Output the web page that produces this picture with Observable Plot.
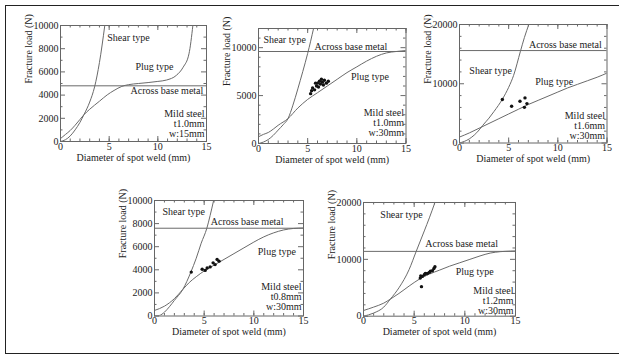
<!DOCTYPE html>
<html><head><meta charset="utf-8">
<script src="https://cdn.jsdelivr.net/npm/d3@7"></script>
<script src="https://cdn.jsdelivr.net/npm/@observablehq/plot@0.6"></script>
<style>
html,body{margin:0;padding:0;background:#fff;}
#wrap{position:relative;width:619px;height:355px;overflow:hidden;background:#fff;font-family:"Liberation Serif",serif;}
#border{position:absolute;left:5px;top:5px;width:700px;height:349px;border:1.5px solid #222;box-sizing:border-box;}
.panel{position:absolute;}
.panel, .panel text{font-family:"Liberation Serif", "Times New Roman", serif !important;font-size:10px;}
</style></head><body>
<div id="wrap"><div id="border"></div></div>
<script>
// ---------- shared axis values ----------
const xTicks = [0, 5, 10, 15];
const xMinor = [0,1,2,3,4,5,6,7,8,9,10,11,12,13,14,15];
const xTitle = "Diameter of spot weld (mm)";
const yTitle = "Fracture load (N)";
const curveNames = ["Shear type", "Plug type", "Across base metal"];

// ---------- Panel 1 : t1.0mm w:15mm ----------
const p1YTicks = [0, 2000, 4000, 6000, 8000, 10000];
const p1YMinor = [1000, 3000, 5000, 7000, 9000];
const p1Max = 10000;
const p1Across = 4800;
const p1Shear = [[0,0],[0.5,150],[1,480],[1.5,1000],[2,1650],[2.4,2300],[3,3400],[3.5,4700],[4,6800],[4.55,10000]];
const p1Plug = [[0,250],[0.5,600],[1,950],[1.5,1400],[2,1900],[2.4,2300],[3,2780],[4,3470],[4.8,4020],[5.5,4400],[6.3,4750],[7,4900],[8,5000],[9,5080],[10,5180],[10.9,5300],[11.9,5700],[12.6,6400],[13.2,7560],[13.6,10000]];
const p1Dots = [];
const p1LabelPos = [[4.8,8970],[7.7,6460],[7.2,4400]];
const p1Note = ["Mild steel", "t1.0mm", "w:15mm"];

// ---------- Panel 2 : t1.0mm w:30mm ----------
const p2YTicks = [0, 5000, 10000];
const p2YMinor = [1000,2000,3000,4000,6000,7000,8000,9000,11000];
const p2Max = 12000;
const p2Across = 9600;
const p2Shear = [[0,0],[0.5,150],[1,420],[1.5,850],[2,1400],[2.5,1950],[3,2600],[3.5,4000],[4,5700],[4.5,7500],[5,9400],[5.6,12000]];
const p2Plug = [[0,700],[0.5,950],[1,1150],[1.5,1500],[2,1900],[3,2600],[4,3700],[5,4600],[6,5300],[7,6000],[8,6700],[9,7400],[10,8000],[11,8600],[12,9100],[13,9450],[14,9600],[15,9700]];
const p2Dots = [[5.3,5200],[5.4,5500],[5.5,5800],[5.7,5600],[5.9,6000],[6.0,6300],[6.1,5900],[6.2,6500],[6.3,6200],[6.5,6400],[6.6,6100],[6.7,6600],[6.9,6300],[7.1,6500],[5.8,6300],[6.4,6700]];
const p2LabelPos = [[0.5,10830],[9.4,7010],[5.7,10140]];
const p2Note = ["Mild steel", "t1.0mm", "w:30mm"];

// ---------- Panel 3 : t1.6mm w:30mm ----------
const p3YTicks = [0, 10000, 20000];
const p3YMinor = [2000,4000,6000,8000,12000,14000,16000,18000];
const p3Max = 20000;
const p3Across = 15600;
const p3Shear = [[0,0],[1,700],[2,2200],[2.35,2950],[3,4200],[3.5,5300],[4.4,7500],[5,9400],[5.5,11400],[6.2,15500],[6.6,17800],[7.05,20000]];
const p3Plug = [[0,1000],[1,1700],[2,2500],[3,3300],[4,4100],[5,4900],[6,5700],[7,6500],[8,7200],[9,7900],[10,8600],[11,9300],[12,9900],[13,10500],[14,11100],[15,11800]];
const p3Dots = [[4.36,7330],[5.3,6190],[6.15,7050],[6.66,7610],[6.86,6650],[6.6,6020]];
const p3LabelPos = [[1.0,12160],[7.7,10340],[7.06,16590]];
const p3Note = ["Mild steel", "t1.6mm", "w:30mm"];

// ---------- Panel 4 : t0.8mm w:30mm ----------
const p4YTicks = [0, 2000, 4000, 6000, 8000, 10000];
const p4YMinor = [1000, 3000, 5000, 7000, 9000];
const p4Max = 10000;
const p4Across = 7600;
const p4Shear = [[0,0],[0.5,50],[1,330],[1.5,800],[2,1350],[2.85,2300],[3.66,3800],[4.2,5000],[4.7,6300],[5.27,7600],[5.6,8700],[5.95,10000]];
const p4Plug = [[0,480],[1,850],[2,1500],[2.85,2300],[3.5,2900],[4.2,3400],[5,3900],[6,4400],[7,4900],[8,5400],[9,5900],[10,6400],[11,6850],[12,7200],[13,7450],[14,7580],[15,7620]];
const p4Dots = [[3.7,3800],[4.8,4050],[5.1,3950],[5.3,4150],[5.6,4250],[5.9,4600],[6.1,4450],[6.3,4900],[6.5,4750]];
const p4LabelPos = [[0.8,8990],[10.4,5520],[5.67,8120]];
const p4Note = ["Mild steel", "t0.8mm", "w:30mm"];

// ---------- Panel 5 : t1.2mm w:30mm ----------
const p5YTicks = [0, 10000, 20000];
const p5YMinor = [2000,4000,6000,8000,12000,14000,16000,18000];
const p5Max = 20000;
const p5Across = 11400;
const p5Shear = [[0,0],[1,550],[2,1600],[2.65,3000],[3.5,5000],[4.5,8200],[5.2,11400],[6,15000],[6.5,17300],[7.05,20000]];
const p5Plug = [[0,1000],[1,1600],[2,2300],[2.65,3000],[3.5,4000],[4.5,5300],[5.5,6500],[6.5,7400],[7.5,8100],[8.5,8800],[9.5,9400],[10.5,10000],[11.5,10600],[12.5,11100],[13.5,11350],[14.5,11450],[15,11480]];
const p5Dots = [[5.72,5200],[5.6,6700],[5.65,7100],[5.8,7000],[6.0,7300],[6.1,7500],[6.3,7500],[6.5,7700],[6.6,7900],[6.8,8000],[6.95,8400],[7.05,8700]];
const p5LabelPos = [[1.66,17840],[9.1,7890],[6.1,12690]];
const p5Note = ["Mild steel", "t1.2mm", "w:30mm"];

// ---------- layout (frame edges in page pixels) ----------
const panels = [
  {L:60,    R:206,   T:25,  B:141,   nDy:-18, max:p1Max, yt:p1YTicks, ym:p1YMinor, across:p1Across, shear:p1Shear, plug:p1Plug, dots:p1Dots, lab:p1LabelPos, note:p1Note},
  {L:258,   R:405.5, T:28,  B:143,   nDy:-21, max:p2Max, yt:p2YTicks, ym:p2YMinor, across:p2Across, shear:p2Shear, plug:p2Plug, dots:p2Dots, lab:p2LabelPos, note:p2Note},
  {L:458.5, R:606,   T:24,  B:142.5, nDy:-17, max:p3Max, yt:p3YTicks, ym:p3YMinor, across:p3Across, shear:p3Shear, plug:p3Plug, dots:p3Dots, lab:p3LabelPos, note:p3Note},
  {L:153.5, R:302.5, T:200, B:315.5, nDy:-19, max:p4Max, yt:p4YTicks, ym:p4YMinor, across:p4Across, shear:p4Shear, plug:p4Plug, dots:p4Dots, lab:p4LabelPos, note:p4Note},
  {L:363,   R:515,   T:202, B:315.7, nDy:-15, max:p5Max, yt:p5YTicks, ym:p5YMinor, across:p5Across, shear:p5Shear, plug:p5Plug, dots:p5Dots, lab:p5LabelPos, note:p5Note}
];

const wrap = document.getElementById("wrap");
const mL = 48, mR = 10, mT = 8, mB = 30;
const ink = "#222", lineCol = "#6a6a6a";
const ff = "Liberation Serif";

for (const p of panels) {
  const fw = p.R - p.L, fh = p.B - p.T;
  const labels = p.lab.map((d, i) => ({x: d[0], y: d[1], text: curveNames[i]}));
  const chart = Plot.plot({
    width: mL + fw + mR,
    height: mT + fh + mB,
    marginLeft: mL, marginRight: mR, marginTop: mT, marginBottom: mB,
    style: {fontFamily: ff, fontSize: "10px", color: ink, background: "transparent", overflow: "visible"},
    x: {domain: [0, 15]},
    y: {domain: [0, p.max]},
    marks: [
      Plot.axisX(xTicks, {tickSize: 0, tickPadding: 1, label: null, tickFormat: d => String(d), fill: ink, fontFamily: ff}),
      Plot.axisY(p.yt, {tickSize: 0, tickPadding: 2, label: null, tickFormat: d => String(d), fill: ink, fontFamily: ff}),
      // inward tick marks on all four sides
      Plot.tickX(xMinor, {x: d => d, insetTop: fh - 2.5, stroke: lineCol}),
      Plot.tickX(xTicks, {x: d => d, insetTop: fh - 5, stroke: lineCol}),
      Plot.tickX(xMinor, {x: d => d, insetBottom: fh - 2.5, stroke: lineCol}),
      Plot.tickX(xTicks, {x: d => d, insetBottom: fh - 5, stroke: lineCol}),
      Plot.tickY(p.ym, {y: d => d, insetRight: fw - 2.5, stroke: lineCol}),
      Plot.tickY(p.yt, {y: d => d, insetRight: fw - 5, stroke: lineCol}),
      Plot.tickY(p.ym, {y: d => d, insetLeft: fw - 2.5, stroke: lineCol}),
      Plot.tickY(p.yt, {y: d => d, insetLeft: fw - 5, stroke: lineCol}),
      Plot.frame({stroke: "#666", strokeWidth: 1}),
      Plot.ruleY([p.across], {stroke: lineCol, strokeWidth: 1}),
      Plot.line(p.shear, {x: d => d[0], y: d => d[1], curve: "monotone-x", stroke: lineCol, strokeWidth: 1, clip: true}),
      Plot.line(p.plug, {x: d => d[0], y: d => d[1], curve: "monotone-x", stroke: lineCol, strokeWidth: 1, clip: true}),
      Plot.dot(p.dots, {x: d => d[0], y: d => d[1], r: 1.7, fill: "#111", stroke: "none"}),
      Plot.text(labels, {x: "x", y: "y", text: "text", textAnchor: "start", fill: ink, fontFamily: ff}),
      Plot.text([p.note.join("\n")], {frameAnchor: "bottom-right", dx: -2, dy: p.nDy, textAnchor: "end", lineAnchor: "middle", lineHeight: 1.0, fill: ink, fontFamily: ff}),
      Plot.text([xTitle], {frameAnchor: "bottom", dy: 19, fill: ink, fontFamily: ff}),
      Plot.text([yTitle], {frameAnchor: "left", rotate: -90, dx: -32, fill: ink, fontFamily: ff})
    ]
  });
  chart.classList.add("panel");
  chart.style.left = (p.L - mL) + "px";
  chart.style.top = (p.T - mT) + "px";
  wrap.appendChild(chart);
}
</script>
</body></html>
